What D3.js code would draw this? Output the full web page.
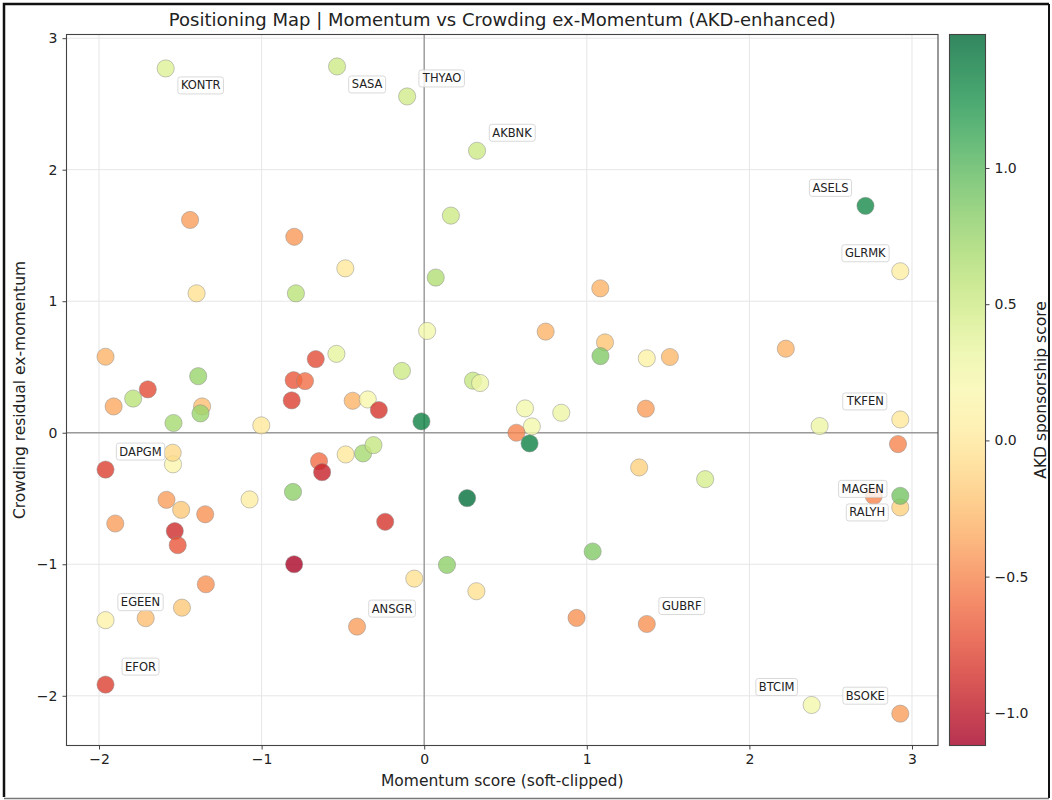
<!DOCTYPE html>
<html>
<head>
<meta charset="utf-8">
<script src="https://cdn.jsdelivr.net/npm/d3@7"></script>
<style>
  html, body { margin: 0; padding: 0; background: #fff; }
  svg { display: block; font-family: "DejaVu Sans", sans-serif; }
</style>
</head>
<body>
<svg id="chart" width="1052" height="800"></svg>
<script>
// Labelled tickers come first; the remaining universe follows unlabelled.
const tickers = ["KONTR","SASA","THYAO","AKBNK","ASELS","GLRMK","TKFEN","MAGEN",
  "RALYH","BSOKE","BTCIM","GUBRF","ANSGR","EFOR","EGEEN","DAPGM"];

// Momentum score (soft-clipped)
const momentum = [
  -1.59, -0.536, -0.105, 0.325, 2.714, 2.928, 2.928, 2.765,
  2.928, 2.928, 2.383, 1.369, -0.413, -1.96, -1.96, -1.96,
  0.164, -1.44, -0.799, -0.485, 0.071, -1.40, -0.789, 0.018, 1.083, 0.747,
  1.112, 1.084, 1.369, 1.511, 2.224, -1.96, -1.70, -1.79, -1.91, -1.39,
  -1.366, -1.376, -1.542, -1.002, -0.667, -0.54, -0.803, -0.733, -0.815, -0.137,
  -0.44, -0.347, -0.279, -0.017, -1.545, -1.547, -0.647, -0.628, -0.483, -0.376,
  -0.312, -1.585, -1.495, -1.347, -1.074, -0.807, -1.90, -1.534, -1.516, -0.80,
  -0.24, -1.343, -1.49, -1.713, -0.061, 0.14, 0.321, 1.036, 0.937, 0.30,
  0.344, 0.62, 0.843, 0.662, 0.567, 0.648, 1.363, 2.432, 2.914, 1.322,
  1.728, 0.264, 2.928
];

// Crowding residual ex-momentum
const crowding = [
  2.77, 2.785, 2.557, 2.144, 1.725, 1.228, 0.101, -0.48,
  -0.568, -2.136, -2.07, -1.454, -1.474, -1.915, -1.425, -0.28,
  1.651, 1.618, 1.49, 1.25, 1.18, 1.06, 1.06, 0.774, 1.098, 0.769,
  0.687, 0.583, 0.566, 0.576, 0.639, 0.578, 0.33, 0.26, 0.20, 0.43,
  0.20, 0.147, 0.074, 0.056, 0.56, 0.60, 0.40, 0.393, 0.246, 0.47,
  0.243, 0.253, 0.173, 0.086, -0.24, -0.152, -0.216, -0.30, -0.165, -0.157,
  -0.094, -0.51, -0.586, -0.62, -0.507, -0.45, -0.69, -0.748, -0.855, -1.0,
  -0.677, -1.152, -1.33, -1.41, -1.109, -1.005, -1.205, -0.903, -1.408, 0.396,
  0.378, 0.185, 0.152, 0.048, 0.0, -0.081, 0.183, 0.051, -0.086, -0.264,
  -0.353, -0.497, -0.48
];

// AKD sponsorship score (colour)
const sponsorship = [
  0.40, 0.50, 0.48, 0.50, 1.30, 0.05, 0.0, -0.50,
  -0.15, -0.40, 0.25, -0.45, -0.40, -0.80, 0.10, -0.80,
  0.50, -0.40, -0.42, 0.0, 0.65, -0.05, 0.60, 0.25, -0.30, -0.30,
  -0.22, 0.85, 0.08, -0.28, -0.30, -0.30, -0.75, 0.60, -0.35, 0.75,
  -0.25, 0.75, 0.70, 0.0, -0.75, 0.35, -0.70, -0.60, -0.80, 0.50,
  -0.30, 0.20, -0.85, 1.35, 0.15, -0.10, -0.60, -0.95, 0.0, 0.70,
  0.55, -0.40, -0.20, -0.45, 0.05, 0.80, -0.40, -0.90, -0.70, -1.10,
  -0.85, -0.45, -0.20, -0.25, -0.05, 0.80, -0.05, 0.85, -0.45, 0.55,
  0.30, 0.25, 0.30, 0.25, -0.50, 1.35, -0.40, 0.30, -0.50, -0.15,
  0.45, 1.45, 0.90
];

const xTicks = [-2, -1, 0, 1, 2, 3];
const yTicks = [-2, -1, 0, 1, 2, 3];
const cTicks = [-1.0, -0.5, 0.0, 0.5, 1.0];

// Annotation offsets (px) for labels nudged away from the default placement
const labelOffset = {
  KONTR: [35, 17], SASA: [30, 18], MAGEN: [-11, -7], RALYH: [-33, 5]
};

const svg = d3.select("#chart");
const W = 1052, H = 800;
const plot = { left: 66.5, right: 938, top: 34.5, bottom: 745.5 };

const x = d3.scaleLinear().domain([-2.2, 3.16]).range([plot.left, plot.right]);
const y = d3.scaleLinear().domain([-2.378, 3.028]).range([plot.bottom, plot.top]);
const cDomain = [-1.12, 1.49];
const color = v => d3.interpolateRdYlGn((v - cDomain[0]) / (cDomain[1] - cDomain[0]));

svg.append("rect").attr("x", 0).attr("y", 0).attr("width", W).attr("height", H).attr("fill", "#fff");

// grid
const grid = svg.append("g");
grid.selectAll(".gx").data(xTicks).join("line")
  .attr("x1", d => x(d)).attr("x2", d => x(d)).attr("y1", plot.top).attr("y2", plot.bottom)
  .attr("stroke", "#e6e6e6").attr("stroke-width", 1);
grid.selectAll(".gy").data(yTicks).join("line")
  .attr("y1", d => y(d)).attr("y2", d => y(d)).attr("x1", plot.left).attr("x2", plot.right)
  .attr("stroke", "#e6e6e6").attr("stroke-width", 1);

// zero reference lines
svg.append("line").attr("x1", x(0)).attr("x2", x(0)).attr("y1", plot.top).attr("y2", plot.bottom)
  .attr("stroke", "#9a9a9a").attr("stroke-width", 1.4);
svg.append("line").attr("y1", y(0)).attr("y2", y(0)).attr("x1", plot.left).attr("x2", plot.right)
  .attr("stroke", "#9a9a9a").attr("stroke-width", 1.4);

// markers
const pts = momentum.map((m, i) => ({ m, c: crowding[i], s: sponsorship[i], t: tickers[i] || "" }));
svg.append("g").selectAll("circle").data(pts).join("circle")
  .attr("cx", d => x(d.m)).attr("cy", d => y(d.c)).attr("r", 8.6)
  .attr("fill", d => color(d.s)).attr("fill-opacity", 0.8)
  .attr("stroke", "#8a8a8a").attr("stroke-opacity", 0.6).attr("stroke-width", 0.8);

// annotations
const ann = svg.append("g").attr("font-size", 11.5).attr("fill", "#222");
pts.filter(d => d.t).forEach(d => {
  let off = labelOffset[d.t];
  if (!off) off = d.m > 2 ? [-35, -18] : [35, -18];
  const cx = x(d.m) + off[0], cy = y(d.c) + off[1];
  const g = ann.append("g");
  const txt = g.append("text").attr("x", cx).attr("y", cy).attr("text-anchor", "middle")
    .attr("dominant-baseline", "central").text(d.t);
  const bb = txt.node().getBBox();
  g.insert("rect", "text").attr("x", bb.x - 3).attr("y", bb.y - 1.5)
    .attr("width", bb.width + 6).attr("height", bb.height + 3).attr("rx", 2.5)
    .attr("fill", "#fff").attr("fill-opacity", 0.8).attr("stroke", "#cfcfcf").attr("stroke-width", 0.8);
});

// axes spines
svg.append("rect").attr("x", plot.left).attr("y", plot.top)
  .attr("width", plot.right - plot.left).attr("height", plot.bottom - plot.top)
  .attr("fill", "none").attr("stroke", "#444").attr("stroke-width", 1.1);

const fmtMinus = v => String(v).replace("-", "\u2212");
const xAxis = svg.append("g").attr("transform", `translate(0,${plot.bottom})`)
  .call(d3.axisBottom(x).tickValues(xTicks).tickSize(4).tickPadding(5).tickFormat(fmtMinus));
const yAxis = svg.append("g").attr("transform", `translate(${plot.left},0)`)
  .call(d3.axisLeft(y).tickValues(yTicks).tickSize(4).tickPadding(5).tickFormat(fmtMinus));
[xAxis, yAxis].forEach(a => {
  a.select(".domain").remove();
  a.selectAll("line").attr("stroke", "#444");
  a.selectAll("text").attr("font-size", 14).attr("fill", "#222").attr("font-family", "DejaVu Sans");
});

// titles
svg.append("text").attr("x", (plot.left + plot.right) / 2).attr("y", 19)
  .attr("text-anchor", "middle").attr("dominant-baseline", "central")
  .attr("font-size", 18).attr("fill", "#222")
  .text("Positioning Map | Momentum vs Crowding ex-Momentum (AKD-enhanced)");
svg.append("text").attr("x", (plot.left + plot.right) / 2).attr("y", 781)
  .attr("text-anchor", "middle").attr("dominant-baseline", "central")
  .attr("font-size", 15.5).attr("fill", "#222").text("Momentum score (soft-clipped)");
svg.append("text").attr("transform", `translate(20,${(plot.top + plot.bottom) / 2}) rotate(-90)`)
  .attr("text-anchor", "middle").attr("dominant-baseline", "central")
  .attr("font-size", 15.5).attr("fill", "#222").text("Crowding residual ex-momentum");

// colour bar
const cb = { left: 949.5, width: 36, top: 34.5, bottom: 745.5 };
const cy = d3.scaleLinear().domain(cDomain).range([cb.bottom, cb.top]);
const defs = svg.append("defs");
const grad = defs.append("linearGradient").attr("id", "cbGrad")
  .attr("x1", 0).attr("y1", 1).attr("x2", 0).attr("y2", 0);
d3.range(0, 1.0001, 0.05).forEach(t => {
  grad.append("stop").attr("offset", t).attr("stop-color", d3.interpolateRdYlGn(t));
});
svg.append("rect").attr("x", cb.left).attr("y", cb.top).attr("width", cb.width)
  .attr("height", cb.bottom - cb.top).attr("fill", "url(#cbGrad)").attr("fill-opacity", 0.8);
svg.append("rect").attr("x", cb.left).attr("y", cb.top).attr("width", cb.width)
  .attr("height", cb.bottom - cb.top).attr("fill", "none").attr("stroke", "#444").attr("stroke-width", 1.1);
const cAxis = svg.append("g").attr("transform", `translate(${cb.left + cb.width},0)`)
  .call(d3.axisRight(cy).tickValues(cTicks).tickSize(4).tickPadding(5)
    .tickFormat(v => d3.format(".1f")(v).replace("-", "\u2212")));
cAxis.select(".domain").remove();
cAxis.selectAll("line").attr("stroke", "#444");
cAxis.selectAll("text").attr("font-size", 14).attr("fill", "#222").attr("font-family", "DejaVu Sans");
svg.append("text").attr("transform", `translate(1041,${(cb.top + cb.bottom) / 2}) rotate(-90)`)
  .attr("text-anchor", "middle").attr("dominant-baseline", "central")
  .attr("font-size", 15.5).attr("fill", "#222").text("AKD sponsorship score");

// outer frame
svg.append("path").attr("d", `M1049,4 H4 V797`).attr("fill", "none").attr("stroke", "#111").attr("stroke-width", 2.5);
svg.append("line").attr("x1", 1049).attr("x2", 1049).attr("y1", 4).attr("y2", 798).attr("stroke", "#111").attr("stroke-width", 2);
svg.append("line").attr("x1", 4).attr("x2", 1049).attr("y1", 798.5).attr("y2", 798.5).attr("stroke", "#777").attr("stroke-width", 1.5);
</script>
</body>
</html>
